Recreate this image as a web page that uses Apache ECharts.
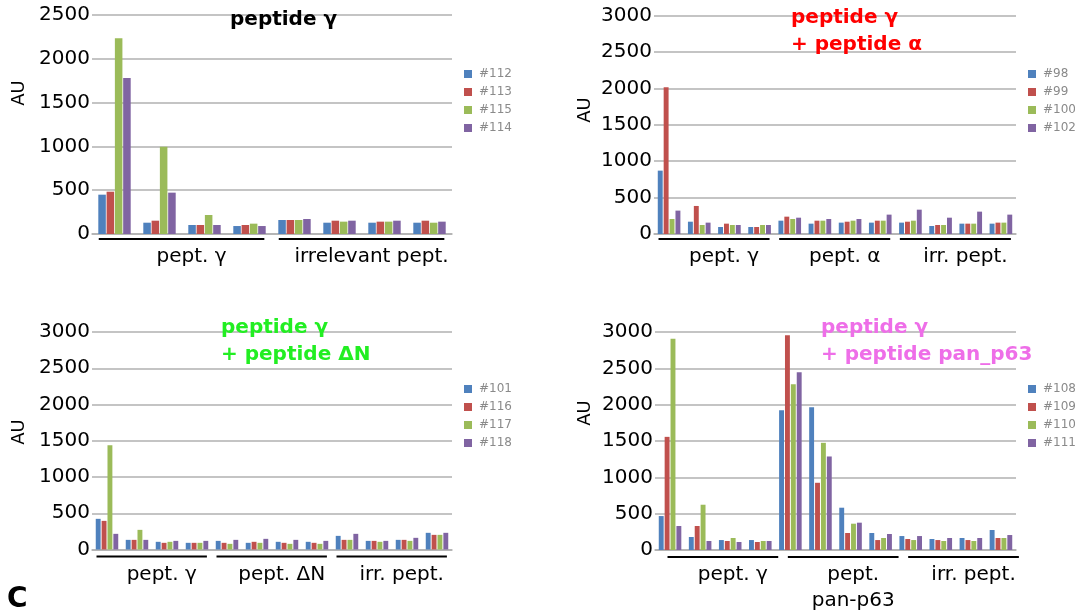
<!DOCTYPE html>
<html>
<head>
<meta charset="utf-8">
<script src="https://cdn.jsdelivr.net/npm/echarts@6/dist/echarts.min.js"></script>
<style>
html,body{margin:0;padding:0;background:#fff;}
#chart{width:1075px;height:615px;}
</style>
</head>
<body>
<div id="chart"></div>
<script>
// ---------- DATA ----------
const p1Series = ['#112', '#113', '#115', '#114'];
const p1Groups = ['pept. γ', 'irrelevant pept.'];
const p1Cats = ['γ1', 'γ2', 'γ3', 'γ4', 'irr1', 'irr2', 'irr3', 'irr4'];
const p1S1 = [449, 129, 103, 91, 160, 129, 129, 129];
const p1S2 = [483, 152, 103, 103, 160, 152, 141, 152];
const p1S3 = [2234, 997, 217, 118, 160, 141, 141, 129];
const p1S4 = [1781, 472, 103, 91, 171, 152, 152, 141];

const p2Series = ['#98', '#99', '#100', '#102'];
const p2Groups = ['pept. γ', 'pept. α', 'irr. pept.'];
const p2Cats = ['γ1', 'γ2', 'γ3', 'γ4', 'α1', 'α2', 'α3', 'α4', 'irr1', 'irr2', 'irr3', 'irr4'];
const p2S1 = [870, 169, 96, 96, 183, 142, 156, 156, 156, 110, 142, 142];
const p2S2 = [2015, 385, 142, 96, 238, 183, 169, 183, 169, 124, 142, 156];
const p2S3 = [206, 124, 124, 124, 206, 183, 183, 183, 183, 124, 142, 156];
const p2S4 = [321, 156, 124, 124, 224, 206, 206, 266, 334, 224, 307, 266];

const p3Series = ['#101', '#116', '#117', '#118'];
const p3Groups = ['pept. γ', 'pept. ΔN', 'irr. pept.'];
const p3Cats = ['γ1', 'γ2', 'γ3', 'γ4', 'ΔN1', 'ΔN2', 'ΔN3', 'ΔN4', 'irr1', 'irr2', 'irr3', 'irr4'];
const p3S1 = [423, 133, 106, 92, 119, 92, 106, 106, 188, 119, 133, 230];
const p3S2 = [395, 133, 92, 92, 92, 106, 92, 92, 133, 119, 133, 202];
const p3S3 = [1438, 271, 106, 92, 78, 92, 78, 78, 133, 106, 119, 202];
const p3S4 = [216, 133, 119, 119, 133, 147, 133, 119, 216, 119, 161, 230];

const p4Series = ['#108', '#109', '#110', '#111'];
const p4Groups = ['pept. γ', 'pept.\npan-p63', 'irr. pept.'];
const p4Cats = ['γ1', 'γ2', 'γ3', 'γ4', 'p63_1', 'p63_2', 'p63_3', 'p63_4', 'irr1', 'irr2', 'irr3', 'irr4'];
const p4S1 = [467, 179, 137, 137, 1924, 1965, 582, 234, 192, 151, 165, 275];
const p4S2 = [1557, 330, 124, 110, 2954, 925, 234, 137, 151, 137, 137, 165];
const p4S3 = [2908, 623, 165, 124, 2281, 1475, 362, 165, 137, 124, 124, 165];
const p4S4 = [330, 124, 110, 124, 2446, 1287, 376, 220, 192, 165, 165, 206];

const titles = ['peptide γ', 'peptide γ\n+ peptide α', 'peptide γ\n+ peptide ΔN', 'peptide γ\n+ peptide pan_p63'];
const yMax = [2500, 3000, 3000, 3000];
const yInterval = 500;

// ---------- STYLE / LAYOUT ----------
const FONT = 'DejaVu Sans';
const COLORS = ['#4F81BD', '#C0504D', '#9BBB59', '#8064A2'];
const titleColors = ['#000000', '#ff0000', '#22ee22', '#ee6ee8'];
const grids = [
  {left: 92, top: 15, width: 360, height: 219},
  {left: 654, top: 15.5, width: 362, height: 218.5},
  {left: 92, top: 332, width: 360, height: 217.5},
  {left: 655, top: 332, width: 361, height: 218}
];
const titlePos = [
  {left: 230, top: 6},
  {left: 791, top: 4},
  {left: 221, top: 314},
  {left: 821, top: 314}
];
const legendPos = [
  {left: 464, top: 68},
  {left: 1028, top: 68},
  {left: 464, top: 383},
  {left: 1028, top: 383}
];
const auPos = [[19, 93], [585, 110], [19, 432], [585, 413]];
const bracketShift = [0, 0, 0, 8];

const panels = [
  {series: p1Series, cats: p1Cats, groups: p1Groups, vals: [p1S1, p1S2, p1S3, p1S4], gap: '28%', bgap: '10%'},
  {series: p2Series, cats: p2Cats, groups: p2Groups, vals: [p2S1, p2S2, p2S3, p2S4], gap: '25%', bgap: '20%'},
  {series: p3Series, cats: p3Cats, groups: p3Groups, vals: [p3S1, p3S2, p3S3, p3S4], gap: '25%', bgap: '20%'},
  {series: p4Series, cats: p4Cats, groups: p4Groups, vals: [p4S1, p4S2, p4S3, p4S4], gap: '25%', bgap: '20%'}
];

const chart = echarts.init(document.getElementById('chart'), null, {renderer: 'canvas'});

const option = {
  animation: false,
  backgroundColor: '#ffffff',
  textStyle: {fontFamily: FONT},
  grid: grids.map(g => Object.assign({containLabel: false}, g)),
  title: titles.map((t, i) => ({
    text: t,
    left: titlePos[i].left,
    top: titlePos[i].top,
    padding: 0,
    textStyle: {fontFamily: FONT, fontSize: 20, fontWeight: 'bold', color: titleColors[i], lineHeight: 27}
  })),
  legend: panels.map((p, i) => ({
    data: p.series,
    orient: 'vertical',
    left: legendPos[i].left,
    top: legendPos[i].top,
    padding: 0,
    itemWidth: 8,
    itemHeight: 8,
    itemGap: 6,
    icon: 'rect',
    selectedMode: false,
    textStyle: {fontFamily: FONT, fontSize: 12, color: '#8a8a8a', padding: [0, 0, 0, 2]}
  })),
  xAxis: panels.map((p, i) => ({
    type: 'category',
    gridIndex: i,
    data: p.cats,
    axisLine: {show: true, lineStyle: {color: '#b0b0b0', width: 1.5}},
    axisTick: {show: false},
    axisLabel: {show: false}
  })),
  yAxis: panels.map((p, i) => ({
    type: 'value',
    gridIndex: i,
    min: 0,
    max: yMax[i],
    interval: yInterval,
    axisLine: {show: false},
    axisTick: {show: false},
    axisLabel: {fontFamily: FONT, fontSize: 20, color: '#000', margin: 2, formatter: v => String(v)},
    splitLine: {lineStyle: {color: '#b0b0b0', width: 1.5}}
  })),
  series: []
};

panels.forEach((p, i) => {
  p.series.forEach((name, k) => {
    option.series.push({
      type: 'bar',
      name: name,
      xAxisIndex: i,
      yAxisIndex: i,
      data: p.vals[k],
      barGap: p.bgap,
      barCategoryGap: p.gap,
      itemStyle: {color: COLORS[k]}
    });
  });
});

chart.setOption(option);

// brackets and group labels computed through the library's scales
const graphics = [];
panels.forEach((p, i) => {
  const x0 = chart.convertToPixel({xAxisIndex: i}, p.cats[0]);
  const x1 = chart.convertToPixel({xAxisIndex: i}, p.cats[1]);
  const cw = x1 - x0;
  const yBase = chart.convertToPixel({yAxisIndex: i}, 0);
  const per = p.cats.length / p.groups.length;
  p.groups.forEach((g, gi) => {
    const a = chart.convertToPixel({xAxisIndex: i}, p.cats[gi * per]) - cw * 0.35 + bracketShift[i];
    const b = chart.convertToPixel({xAxisIndex: i}, p.cats[gi * per + per - 1]) + cw * 0.33 + bracketShift[i];
    const by = yBase + (i >= 2 ? 7 : 5);
    graphics.push({
      type: 'line', silent: true,
      shape: {x1: a, y1: by, x2: b, y2: by},
      style: {stroke: '#000', lineWidth: 2}
    });
    graphics.push({
      type: 'text', silent: true,
      x: (a + b) / 2 + 10, y: by + 5,
      style: {text: g, font: '20px "DejaVu Sans"', fill: '#000', align: 'center', verticalAlign: 'top', lineHeight: 26}
    });
  });
  graphics.push({
    type: 'text', silent: true,
    x: auPos[i][0], y: auPos[i][1], rotation: Math.PI / 2,
    style: {text: 'AU', font: '18px "DejaVu Sans"', fill: '#000', align: 'center', verticalAlign: 'middle'}
  });
});
graphics.push({
  type: 'text', silent: true, x: 7, y: 586,
  style: {text: 'C', font: 'bold 28px "DejaVu Sans"', fill: '#000', align: 'left', verticalAlign: 'top'}
});
chart.setOption({graphic: graphics});
</script>
</body>
</html>
